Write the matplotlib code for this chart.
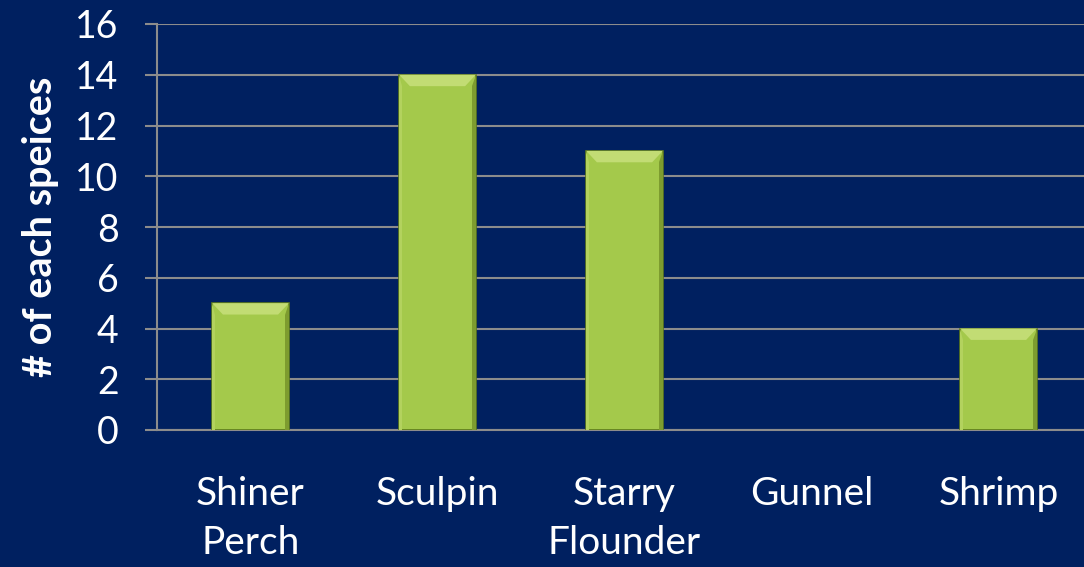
import matplotlib.pyplot as plt
from matplotlib.patches import Polygon

species = ["Shiner\nPerch", "Sculpin", "Starry\nFlounder", "Gunnel", "Shrimp"]
counts = [5, 14, 11, 0, 4]
yTicks = [0, 2, 4, 6, 8, 10, 12, 14, 16]

bgColor = "#002060"
gridColor = "#8c8c8c"
barColor = "#a4c94b"

plt.rcParams['font.family'] = ['Lato', 'DejaVu Sans']

fig = plt.figure(figsize=(10.84, 5.67), dpi=100, facecolor=bgColor)
ax = fig.add_axes([157 / 1084, 137 / 567, (1084 - 157) / 1084, (430 - 24) / 567])
ax.set_facecolor(bgColor)

width = 0.41
xs = list(range(len(species)))
bars = ax.bar(xs, counts, width=width, color=barColor, edgecolor="#5d7a1c",
              linewidth=1.2, zorder=3)

# bevel look: light top, dark right side
for bar, x, h in zip(bars, xs, counts):
    if h == 0:
        bar.set_visible(False)
        continue
    left = x - width / 2
    right = x + width / 2
    dx = width * 0.14
    dy = 0.45
    top = Polygon([(left, h), (right, h), (right - dx, h - dy), (left + dx, h - dy)],
                  closed=True, facecolor="#c2dc74", edgecolor="none", zorder=4)
    side = Polygon([(right, h), (right, 0), (right - dx * 0.4, 0), (right - dx * 0.4, h - dy)],
                   closed=True, facecolor="#7d9c2f", edgecolor="none", zorder=4)
    leftSide = Polygon([(left, h), (left, 0), (left + dx * 0.3, 0), (left + dx * 0.3, h - dy)],
                       closed=True, facecolor="#b3d25e", edgecolor="none", zorder=4)
    ax.add_patch(top)
    ax.add_patch(side)
    ax.add_patch(leftSide)

ax.set_xlim(-0.5, (1084 - 157) / 187 - 0.5)
ax.set_ylim(0, 16)
ax.set_yticks(yTicks)
ax.set_xticks(xs)
ax.set_xticklabels(species, fontsize=28, color="white", linespacing=1.45)
ax.tick_params(axis='x', length=0, pad=33)
ax.tick_params(axis='y', length=8.5, width=1.5, color=gridColor, labelsize=27,
               labelcolor="white", pad=19)

ax.grid(axis='y', color=gridColor, linewidth=1.5, zorder=0)
ax.set_axisbelow(True)
for side in ["top", "right"]:
    ax.spines[side].set_visible(False)
ax.spines["left"].set_color(gridColor)
ax.spines["left"].set_linewidth(1.5)
ax.spines["bottom"].set_color(gridColor)
ax.spines["bottom"].set_linewidth(1.5)

ax.set_ylabel("# of each speices", fontsize=28.5, fontweight='bold', color="white", labelpad=12)

fig.savefig("out.png", dpi=100, facecolor=bgColor)
